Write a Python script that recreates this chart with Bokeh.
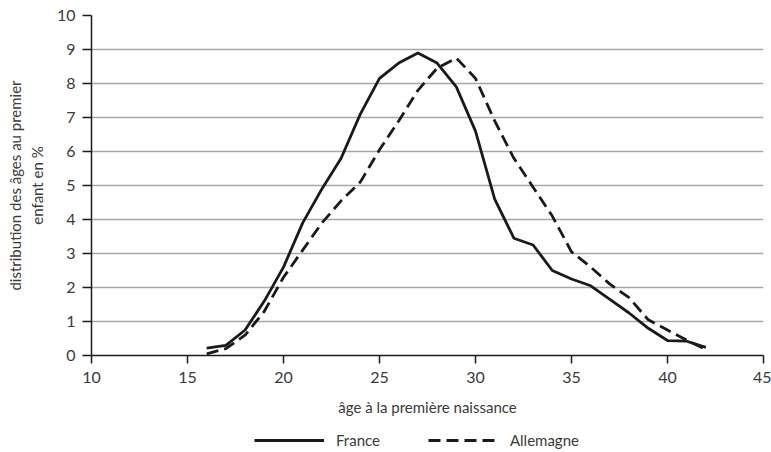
from bokeh.plotting import figure
from bokeh.layouts import column
from bokeh.models import Range1d, Legend, LegendItem, FixedTicker
from bokeh.embed import file_html
from bokeh.resources import INLINE

ages = list(range(16, 43))
france = [0.22, 0.30, 0.75, 1.60, 2.60, 3.90, 4.90, 5.80, 7.10, 8.15, 8.60, 8.90, 8.60, 7.90,
          6.60, 4.60, 3.45, 3.25, 2.50, 2.25, 2.05, 1.65, 1.25, 0.80, 0.44, 0.42, 0.24]
allemagne = [0.05, 0.20, 0.60, 1.30, 2.30, 3.10, 3.90, 4.55, 5.10, 6.05, 6.90, 7.80, 8.45, 8.75,
             8.15, 6.90, 5.80, 4.95, 4.10, 3.05, 2.60, 2.10, 1.70, 1.05, 0.75, 0.45, 0.18]
series_names = ["France", "Allemagne"]
x_ticks = [10, 15, 20, 25, 30, 35, 40, 45]
y_ticks = list(range(0, 11))

FONT = "Lato"
TXT = "#3a3a3a"
LINE = "#1a1a1a"
DASH = "12 6"

p = figure(width=771, height=425, output_backend="svg", toolbar_location=None,
           x_range=Range1d(10, 45), y_range=Range1d(0, 10),
           min_border_left=91, min_border_right=8, min_border_top=15, min_border_bottom=70)
p.outline_line_color = None
p.background_fill_color = "white"
p.border_fill_color = "white"

p.line(ages, france, line_color=LINE, line_width=2.8)
p.line(ages, allemagne, line_color=LINE, line_width=2.8, line_dash=DASH)

p.xgrid.grid_line_color = None
p.ygrid.grid_line_color = "#a6a6a6"
p.ygrid.grid_line_width = 1.3
p.ygrid.ticker = FixedTicker(ticks=y_ticks)

for ax in (p.xaxis[0], p.yaxis[0]):
    ax.axis_line_color = LINE
    ax.axis_line_width = 1.5
    ax.major_tick_line_color = LINE
    ax.major_tick_line_width = 1.5
    ax.major_tick_in = 0
    ax.minor_tick_line_color = None
    ax.major_label_text_font = FONT
    ax.major_label_text_font_size = "16px"
    ax.major_label_text_color = TXT
    ax.axis_label_text_font = FONT
    ax.axis_label_text_font_size = "15px"
    ax.axis_label_text_font_style = "normal"
    ax.axis_label_text_color = TXT

p.xaxis.ticker = FixedTicker(ticks=x_ticks)
p.yaxis.ticker = FixedTicker(ticks=y_ticks)
p.xaxis.major_tick_out = 8
p.yaxis.major_tick_out = 9
p.xaxis.major_label_standoff = 8
p.yaxis.major_label_standoff = 7
p.xaxis.axis_label = "âge à la première naissance"
p.yaxis.axis_label = "distribution des âges au premier\nenfant en %"
p.xaxis.axis_label_standoff = 12
p.yaxis.axis_label_standoff = 8

# legend strip below the chart (series drawn out of its view, only the legend shows)
lg = figure(width=771, height=27, output_backend="svg", toolbar_location=None,
            x_range=Range1d(0, 1), y_range=Range1d(0, 1),
            min_border_left=0, min_border_right=0, min_border_top=0, min_border_bottom=0)
lg.axis.visible = False
lg.grid.visible = False
lg.outline_line_color = None
lg.border_fill_color = "white"
r1 = lg.line(ages, france, line_color=LINE, line_width=2.8)
r2 = lg.line(ages, allemagne, line_color=LINE, line_width=2.8, line_dash=DASH)

legend = Legend(items=[LegendItem(label=series_names[0], renderers=[r1]),
                       LegendItem(label=series_names[1], renderers=[r2])],
                orientation="horizontal", location=(163, 3),
                glyph_width=70, glyph_height=14, label_standoff=12, spacing=48,
                label_text_font=FONT, label_text_font_size="15px", label_text_color=TXT,
                border_line_color=None, background_fill_alpha=0,
                padding=4, margin=0, label_height=14)
lg.add_layout(legend, "center")

open("out.html", "w").write(file_html(column(p, lg, spacing=0), INLINE))
